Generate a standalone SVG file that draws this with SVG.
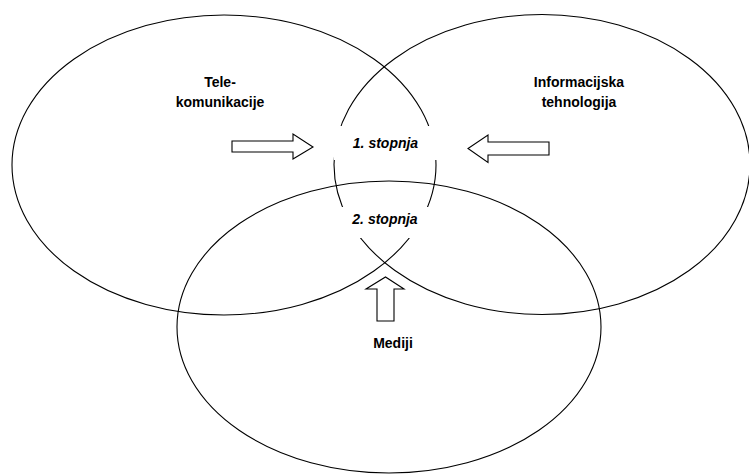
<svg xmlns="http://www.w3.org/2000/svg" width="749" height="475" viewBox="0 0 749 475">
  <style>
    .set { fill: none; stroke: #000; stroke-width: 1.1; }
    .mask { fill: #fff; stroke: none; }
    .arrow { fill: #fff; stroke: #000; stroke-width: 1.1; stroke-linejoin: miter; }
    .lbl { font-family: "Liberation Sans", Arial, sans-serif; font-size: 14px; font-weight: bold; fill: #000; text-anchor: middle; }
    .stage { font-style: italic; }
  </style>
  <rect width="749" height="475" fill="#fff"/>
  <g id="telekomunikacije">
    <ellipse class="set" cx="224" cy="165" rx="212" ry="150"/>
  </g>
  <g id="informacijska-tehnologija">
    <ellipse class="set" cx="542" cy="164.5" rx="208" ry="150"/>
  </g>
  <g id="mediji">
    <ellipse class="set" cx="389" cy="327" rx="212" ry="146"/>
  </g>
  <g id="stage1">
    <rect class="mask" x="334" y="126" width="104" height="34"/>
    <text class="lbl stage" x="385.5" y="147.5">1. stopnja</text>
  </g>
  <g id="stage2">
    <rect class="mask" x="340" y="207" width="92" height="31"/>
    <text class="lbl stage" x="385" y="224">2. stopnja</text>
  </g>
  <g id="labels">
    <text class="lbl" x="220" y="87">Tele-</text>
    <text class="lbl" x="220" y="107">komunikacije</text>
    <text class="lbl" x="579" y="87">Informacijska</text>
    <text class="lbl" x="579" y="107">tehnologija</text>
    <text class="lbl" x="393" y="348">Mediji</text>
  </g>
  <g id="connectors">
    <polygon class="arrow" points="232,141 293,141 293,134 313,147 293,159 293,152 232,152"/>
    <polygon class="arrow" points="549,142 488,142 488,135 468,148.5 488,162.5 488,155 549,155"/>
    <polygon class="arrow" points="377,321 377,289 366,289 385.5,277 404,289 394,289 394,321"/>
  </g>
</svg>
